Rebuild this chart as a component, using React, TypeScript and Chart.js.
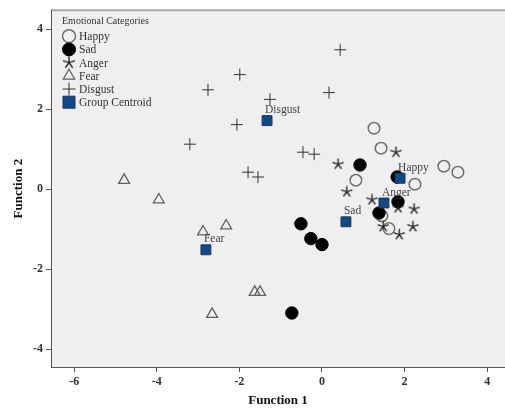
import React, { useEffect, useRef } from "react";
import { Chart, registerables } from "chart.js";
Chart.register(...registerables);

const happyX = [1.26, 1.43, 0.82, 2.25, 2.95, 3.29, 1.45, 1.62];
const happyY = [1.52, 1.02, 0.22, 0.12, 0.57, 0.42, -0.67, -0.99];
const sadX = [0.92, 1.82, 1.84, 1.38, -0.51, -0.27, 0.0, -0.73];
const sadY = [0.6, 0.3, -0.32, -0.6, -0.87, -1.24, -1.39, -3.1];
const angerX = [1.79, 0.39, 0.6, 1.21, 1.84, 2.23, 1.48, 2.2, 1.87];
const angerY = [0.92, 0.62, -0.07, -0.27, -0.47, -0.5, -0.94, -0.94, -1.14];
const fearX = [-4.79, -3.95, -2.88, -2.32, -1.63, -1.5, -2.66];
const fearY = [0.22, -0.27, -1.07, -0.92, -2.58, -2.58, -3.13];
const disgustX = [0.44, -1.99, -2.76, 0.17, -1.26, -2.06, -3.2, -0.46, -0.19, -1.79, -1.55];
const disgustY = [3.48, 2.86, 2.48, 2.41, 2.24, 1.61, 1.12, 0.92, 0.87, 0.42, 0.3];
const centroidLabels = ["Happy", "Sad", "Anger", "Fear", "Disgust"];
const centroidX = [1.89, 0.58, 1.5, -2.81, -1.33];
const centroidY = [0.27, -0.82, -0.35, -1.52, 1.71];
const xTicks = [-6, -4, -2, 0, 2, 4];
const yTicks = [-4, -2, 0, 2, 4];
const legendTitle = "Emotional Categories";
const legendLabels = ["Happy", "Sad", "Anger", "Fear", "Disgust", "Group Centroid"];

const SERIF = "'Liberation Serif', 'DejaVu Serif', serif";

const zip = (xs: number[], ys: number[]) => xs.map((x, i) => ({ x, y: ys[i] }));

function makeStar(size: number, color: string) {
  const c = document.createElement("canvas");
  c.width = size;
  c.height = size;
  const ctx = c.getContext("2d")!;
  const r = size / 2 - 0.7;
  ctx.strokeStyle = color;
  ctx.lineWidth = 1.3;
  ctx.beginPath();
  for (let k = 0; k < 5; k++) {
    const a = -Math.PI / 2 + (k * 2 * Math.PI) / 5;
    ctx.moveTo(size / 2, size / 2);
    ctx.lineTo(size / 2 + r * Math.cos(a), size / 2 + r * Math.sin(a));
  }
  ctx.stroke();
  return c;
}

function drawPointHelper(ctx: CanvasRenderingContext2D, s: any, x: number, y: number) {
  const r = s.radius;
  const st = s.pointStyle;
  if (st instanceof HTMLCanvasElement) {
    ctx.drawImage(st, x - st.width / 2, y - st.height / 2);
    return;
  }
  ctx.beginPath();
  if (st === "circle") {
    ctx.arc(x, y, r, 0, Math.PI * 2);
    ctx.fill();
    ctx.stroke();
  } else if (st === "triangle") {
    ctx.moveTo(x, y - r);
    ctx.lineTo(x + r * 0.866, y + r * 0.5);
    ctx.lineTo(x - r * 0.866, y + r * 0.5);
    ctx.closePath();
    ctx.stroke();
  } else if (st === "cross") {
    ctx.moveTo(x - r, y);
    ctx.lineTo(x + r, y);
    ctx.moveTo(x, y - r);
    ctx.lineTo(x, y + r);
    ctx.stroke();
  } else if (st === "rect") {
    const h = r * Math.SQRT1_2;
    ctx.rect(x - h, y - h, 2 * h, 2 * h);
    ctx.fill();
    ctx.stroke();
  }
}

export default function App() {
  const ref = useRef<HTMLCanvasElement>(null);
  useEffect(() => {
    const star = makeStar(13, "#1a1a1a");
    const starLegend = makeStar(14, "#1a1a1a");
    const styles: any[] = [
      { pointStyle: "circle", radius: 5.8, backgroundColor: "rgba(0,0,0,0)", borderColor: "#707070", borderWidth: 1.5 },
      { pointStyle: "circle", radius: 6.2, backgroundColor: "#000", borderColor: "#000", borderWidth: 1 },
      { pointStyle: star, radius: 6, backgroundColor: "#1a1a1a", borderColor: "#1a1a1a", borderWidth: 1 },
      { pointStyle: "triangle", radius: 6.3, backgroundColor: "rgba(0,0,0,0)", borderColor: "#606060", borderWidth: 1.3 },
      { pointStyle: "cross", radius: 6, backgroundColor: "#333", borderColor: "#333", borderWidth: 1 },
      { pointStyle: "rect", radius: 7, backgroundColor: "#0d4a8c", borderColor: "#23364f", borderWidth: 1 },
    ];
    const legendStyles: any[] = [
      { ...styles[0], radius: 6.5 },
      { ...styles[1], radius: 6.5 },
      { ...styles[2], pointStyle: starLegend, radius: 6.5 },
      { ...styles[3], radius: 6.5 },
      { ...styles[4], radius: 6.5 },
      { ...styles[5], radius: 8.5 },
    ];

    const mk = (label: string, data: any[], s: any, order: number) => ({
      label,
      data,
      order,
      showLine: false,
      pointStyle: s.pointStyle,
      pointRadius: s.radius,
      pointBackgroundColor: s.backgroundColor,
      pointBorderColor: s.borderColor,
      pointBorderWidth: s.borderWidth,
    });

    const bgPlugin = {
      id: "bg",
      beforeDraw(chart: any) {
        const { ctx, chartArea: a } = chart;
        ctx.save();
        ctx.fillStyle = "#efefef";
        ctx.fillRect(a.left, a.top, a.right - a.left, a.bottom - a.top);
        ctx.strokeStyle = "#a8a8a8";
        ctx.lineWidth = 2;
        ctx.beginPath();
        ctx.moveTo(a.left, a.top);
        ctx.lineTo(a.right, a.top);
        ctx.stroke();
        ctx.restore();
      },
    };

    const overlayPlugin = {
      id: "overlay",
      afterDraw(chart: any) {
        const { ctx, chartArea: a } = chart;
        const xs = chart.scales.x;
        const ys = chart.scales.y;
        ctx.save();
        ctx.font = `11.5px ${SERIF}`;
        ctx.fillStyle = "#444";
        ctx.textAlign = "left";
        ctx.textBaseline = "middle";
        centroidLabels.forEach((lab, i) => {
          const px = xs.getPixelForValue(centroidX[i]);
          const py = ys.getPixelForValue(centroidY[i]);
          ctx.fillText(lab, px - 2, py - 10.5);
        });
        ctx.font = `10px ${SERIF}`;
        ctx.fillStyle = "#333";
        ctx.fillText(legendTitle, a.left + 11, a.top + 11);
        ctx.font = `11.5px ${SERIF}`;
        legendLabels.forEach((lab, i) => {
          const y = a.top + 26 + i * 13.2;
          const s = legendStyles[i];
          ctx.save();
          ctx.fillStyle = s.backgroundColor;
          ctx.strokeStyle = s.borderColor;
          ctx.lineWidth = s.borderWidth;
          drawPointHelper(ctx, s, a.left + 18, y);
          ctx.restore();
          ctx.fillStyle = "#333";
          ctx.fillText(lab, a.left + 28, y + 1);
        });
        ctx.restore();
      },
    };

    const chart = new Chart(ref.current!, {
      type: "scatter",
      data: {
        datasets: [
          mk("Happy", zip(happyX, happyY), styles[0], 5),
          mk("Sad", zip(sadX, sadY), styles[1], 4),
          mk("Anger", zip(angerX, angerY), styles[2], 3),
          mk("Fear", zip(fearX, fearY), styles[3], 2),
          mk("Disgust", zip(disgustX, disgustY), styles[4], 1),
          mk("Group Centroid", zip(centroidX, centroidY), styles[5], 0),
        ],
      },
      options: {
        animation: false,
        responsive: false,
        maintainAspectRatio: false,
        layout: { autoPadding: false, padding: { top: 9, right: 0, left: 0, bottom: 0 } },
        plugins: { legend: { display: false }, tooltip: { enabled: false } },
        scales: {
          x: {
            type: "linear",
            min: -6.56,
            max: 4.43,
            afterBuildTicks: (s: any) => {
              s.ticks = xTicks.map((v) => ({ value: v }));
            },
            afterFit: (s: any) => {
              s.height = 41;
            },
            grid: { drawOnChartArea: false, drawTicks: true, tickLength: 5, color: "#555" },
            border: { display: true, color: "#555", width: 1 },
            ticks: {
              color: "#333",
              padding: 3,
              font: { family: SERIF, size: 12, weight: "bold" },
              callback: (v: any) => String(v),
            },
            title: {
              display: true,
              text: "Function 1",
              color: "#111",
              font: { family: SERIF, size: 13, weight: "bold" },
              padding: { top: 0, bottom: 0 },
            },
          },
          y: {
            type: "linear",
            min: -4.45,
            max: 4.47,
            afterBuildTicks: (s: any) => {
              s.ticks = yTicks.map((v) => ({ value: v }));
            },
            afterFit: (s: any) => {
              s.width = 51;
            },
            grid: { drawOnChartArea: false, drawTicks: true, tickLength: 5, color: "#555" },
            border: { display: true, color: "#555", width: 1 },
            ticks: {
              color: "#333",
              padding: 3,
              font: { family: SERIF, size: 12, weight: "bold" },
              callback: (v: any) => String(v),
            },
            title: {
              display: true,
              text: "Function 2",
              color: "#111",
              font: { family: SERIF, size: 13, weight: "bold" },
              padding: { top: 11, bottom: 0 },
            },
          },
        },
      } as any,
      plugins: [bgPlugin, overlayPlugin],
    });
    return () => chart.destroy();
  }, []);

  return (
    <div style={{ position: "fixed", left: 0, top: 0, width: 505, height: 408, background: "#fff" }}>
      <canvas ref={ref} width={505} height={408} style={{ width: 505, height: 408 }} />
    </div>
  );
}
